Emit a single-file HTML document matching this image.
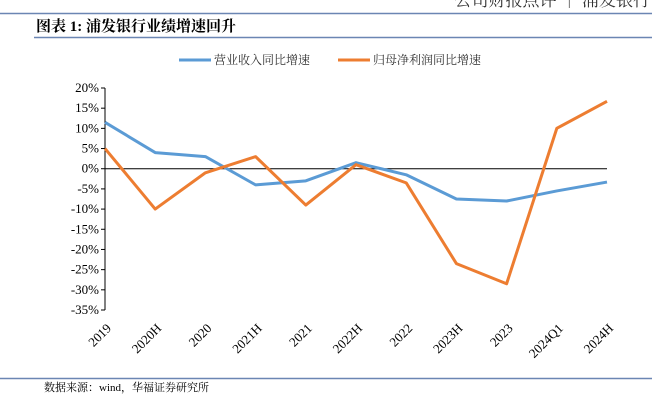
<!DOCTYPE html>
<html><head><meta charset="utf-8"><style>
body{margin:0;width:652px;height:405px;background:#fff;overflow:hidden;font-family:"Liberation Serif","Noto Serif CJK SC",serif;}
</style></head><body>
<svg width="652" height="405" xmlns="http://www.w3.org/2000/svg">
<text x="650" y="6" text-anchor="end" font-size="17" fill="#333">公司财报点评 ｜ 浦发银行</text>
<line x1="0" y1="13.5" x2="652" y2="13.5" stroke="#6b86b3" stroke-width="1.5"/>
<text x="36" y="31" font-size="15" font-weight="bold" fill="#000">图表 1:  浦发银行业绩增速回升</text>
<line x1="34" y1="37.5" x2="652" y2="37.5" stroke="#6b86b3" stroke-width="1.5"/>
<g font-size="12" fill="#333">
<line x1="179" y1="60" x2="211" y2="60" stroke="#5b9bd5" stroke-width="3"/>
<text x="214" y="64">营业收入同比增速</text>
<line x1="338" y1="60" x2="370" y2="60" stroke="#ed7d31" stroke-width="3"/>
<text x="373" y="64">归母净利润同比增速</text>
</g>
<g id="axes"></g>
<g id="plot"></g>
<line x1="0" y1="378.5" x2="652" y2="378.5" stroke="#6b86b3" stroke-width="1.5"/>
<text x="44" y="391" font-size="11" fill="#000">数据来源：wind，华福证券研究所</text>
</svg>
<script>
const categories=["2019","2020H","2020","2021H","2021","2022H","2022","2023H","2023","2024Q1","2024H"];
const revenue=[11.5,4,3,-4,-3,1.5,-1.5,-7.5,-8,-5.5,-3.3];
const profit=[5,-10,-1,3,-9,1,-3.5,-23.5,-28.5,10,16.7];
const yTicks=[20,15,10,5,0,-5,-10,-15,-20,-25,-30,-35];
const NS="http://www.w3.org/2000/svg";
const x0=105,x1=607,yTop=88,yBot=310;
const xs=i=>x0+i*(x1-x0)/(categories.length-1);
const ys=v=>yTop+(20-v)*(yBot-yTop)/55;
const axes=document.getElementById('axes'),plot=document.getElementById('plot');
function mk(t,a,p){const e=document.createElementNS(NS,t);for(const k in a)e.setAttribute(k,a[k]);p.appendChild(e);return e;}
const ya=mk('line',{x1:x0,y1:yTop,x2:x0,y2:yBot,stroke:'#000','stroke-width':1},axes);


yTicks.forEach(v=>{
 mk('line',{x1:x0-4,y1:ys(v),x2:x0,y2:ys(v),stroke:'#000'},axes);
 const t=mk('text',{x:x0-6,y:ys(v)+4,'text-anchor':'end','font-size':13,fill:'#000'},axes);
 t.textContent=v+'%';
 
 
});
const xa=mk('line',{x1:x0,y1:ys(0),x2:x1,y2:ys(0),stroke:'#000'},axes);


categories.forEach((c,i)=>{
 const t=mk('text',{x:xs(i)+7,y:329,'text-anchor':'end','font-size':13,fill:'#000',transform:`rotate(-45 ${xs(i)+7} 329)`},axes);
 t.textContent=c;
 
 
});
function series(arr,col,name){
 const p=mk('polyline',{points:arr.map((v,i)=>xs(i)+','+ys(v)).join(' '),fill:'none',stroke:col,'stroke-width':3,'stroke-linejoin':'round'},plot);
 
 
}
series(revenue,'#5b9bd5','revenue-growth-line');
series(profit,'#ed7d31','profit-growth-line');
</script>
</body></html>
